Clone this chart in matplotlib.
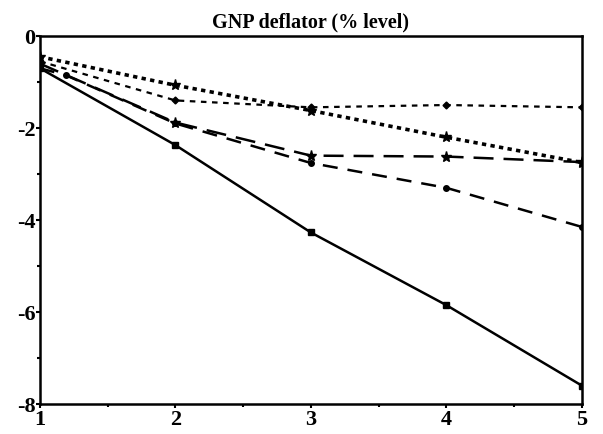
import matplotlib.pyplot as plt
from matplotlib.ticker import MultipleLocator

plt.rcParams['font.family'] = ['Liberation Serif', 'DejaVu Serif']
plt.rcParams['axes.unicode_minus'] = False

years = [1, 2, 3, 4, 5]
years_b = [1, 1.19, 2, 3, 4, 5]
solid = [-0.7, -2.37, -4.27, -5.85, -7.6]
long_dash = [-0.7, -0.85, -1.9, -2.76, -3.3, -4.15]
dash_star = [-0.6, -1.88, -2.6, -2.62, -2.74]
dotted = [-0.45, -1.07, -1.62, -2.2, -2.75]
short_dash = [-0.55, -1.4, -1.55, -1.5, -1.55]

fig = plt.figure(figsize=(6.03, 4.34), dpi=100)
ax = fig.add_axes([0.066, 0.069, 0.899, 0.848])

ax.plot(years, solid, 'k-', lw=1.8, marker='s', ms=4)
ax.plot(years_b, long_dash, 'k', ls=(0, (6, 4)), lw=1.8, marker='o', ms=4)
ax.plot(years, dash_star, 'k', ls=(0, (8, 4)), lw=1.8, marker='*', ms=8)
ax.plot(years, dotted, 'k', ls=(0, (1.2, 1.2)), lw=2.6, marker='*', ms=8)
ax.plot(years, short_dash, 'k', ls=(0, (2.5, 2.5)), lw=1.6, marker='D', ms=3.5)

ax.set_xlim(1, 5)
ax.set_ylim(-8, 0)
ax.set_xticks(years)
ax.set_yticks([0, -2, -4, -6, -8])
ax.xaxis.set_minor_locator(MultipleLocator(0.5))
ax.yaxis.set_minor_locator(MultipleLocator(1))
ax.tick_params(which='both', direction='out', width=1.5, top=False, right=False)
ax.tick_params(which='major', length=3, labelsize=16)
ax.tick_params(axis='x', which='major', pad=1)
ax.tick_params(axis='y', which='major', pad=0)
ax.tick_params(which='minor', length=2)
for lab in ax.get_xticklabels() + ax.get_yticklabels():
    lab.set_fontweight('bold')
for s in ax.spines.values():
    s.set_linewidth(1.8)

ax.set_title('GNP deflator (% level)', fontsize=14.5, fontweight='bold', pad=6)

fig.savefig('out.png', dpi=100)
